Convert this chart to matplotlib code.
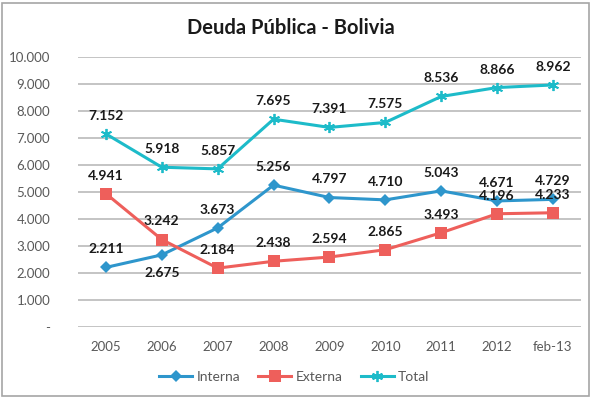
"""Deuda Pública - Bolivia: line chart of internal, external and total debt."""

import matplotlib

matplotlib.use("Agg")
import matplotlib.pyplot as plt
from matplotlib.patches import Rectangle
from matplotlib.ticker import FuncFormatter

plt.rcParams["font.family"] = ["Lato", "DejaVu Sans"]

periods = ["2005", "2006", "2007", "2008", "2009", "2010", "2011", "2012", "feb-13"]
interna = [2211, 2675, 3673, 5256, 4797, 4710, 5043, 4671, 4729]
externa = [4941, 3242, 2184, 2438, 2594, 2865, 3493, 4196, 4233]
total = [7152, 5918, 5857, 7695, 7391, 7575, 8536, 8866, 8962]

# label placement: +1 above the point, -1 below
interna_side = [1, -1, 1, 1, 1, 1, 1, 1, 1]
externa_side = [1] * 9
total_side = [1] * 9


def _fmt(v):
    return f"{v:,.0f}".replace(",", ".")


fig = plt.figure(figsize=(5.93, 3.98), dpi=100)
ax = fig.add_axes([0.1315, 0.178, 0.848, 0.679])

x = range(len(periods))
series = [
    ("Interna", interna, interna_side, "#2E96CC", "D", 6),
    ("Externa", externa, externa_side, "#EE5F5B", "s", 8),
    ("Total", total, total_side, "#1DBBC9", (6, 2, 0), 8),
]
for name, vals, sides, color, marker, ms in series:
    ax.plot(x, vals, color=color, lw=2.2, marker=marker, markersize=ms,
            markeredgewidth=1.3 if name == "Total" else 0, label=name, zorder=3)
    for xi, v, s in zip(x, vals, sides):
        ax.annotate(_fmt(v), (xi, v), xytext=(0, 13 * s), textcoords="offset points",
                    ha="center", va="center", fontsize=10, fontweight="bold",
                    color="#1a1a1a", zorder=4)

ax.set_ylim(0, 10000)
ax.set_xlim(-0.5, len(periods) - 0.5)
ax.set_yticks(range(0, 10001, 1000))
ax.yaxis.set_major_formatter(FuncFormatter(lambda v, _: "-" if v == 0 else _fmt(v)))
ax.set_xticks(list(x))
ax.set_xticklabels(periods)
ax.tick_params(length=0, labelsize=9.5, colors="#595959", pad=10)
ax.tick_params(axis="y", pad=20)
for lbl in ax.get_yticklabels():
    lbl.set_horizontalalignment("right")
ax.grid(axis="y", color="#BFBFBF", lw=1.3)
ax.set_axisbelow(True)
for sp in ax.spines.values():
    sp.set_visible(False)

fig.text(0.49, 0.93, "Deuda Pública - Bolivia", ha="center", va="center",
         fontsize=14.5, fontweight="bold", color="#1a1a1a")

ax.legend(loc="upper center", bbox_to_anchor=(0.43, -0.115), ncol=3, frameon=False,
          fontsize=10, labelcolor="#595959", handlelength=2.4, columnspacing=1.3,
          handletextpad=0.3)

fig.patches.append(Rectangle((0.004, 0.006), 0.99, 0.986, transform=fig.transFigure,
                             fill=False, edgecolor="#A6A6A6", lw=1.2))

fig.savefig("out.png", dpi=100)
